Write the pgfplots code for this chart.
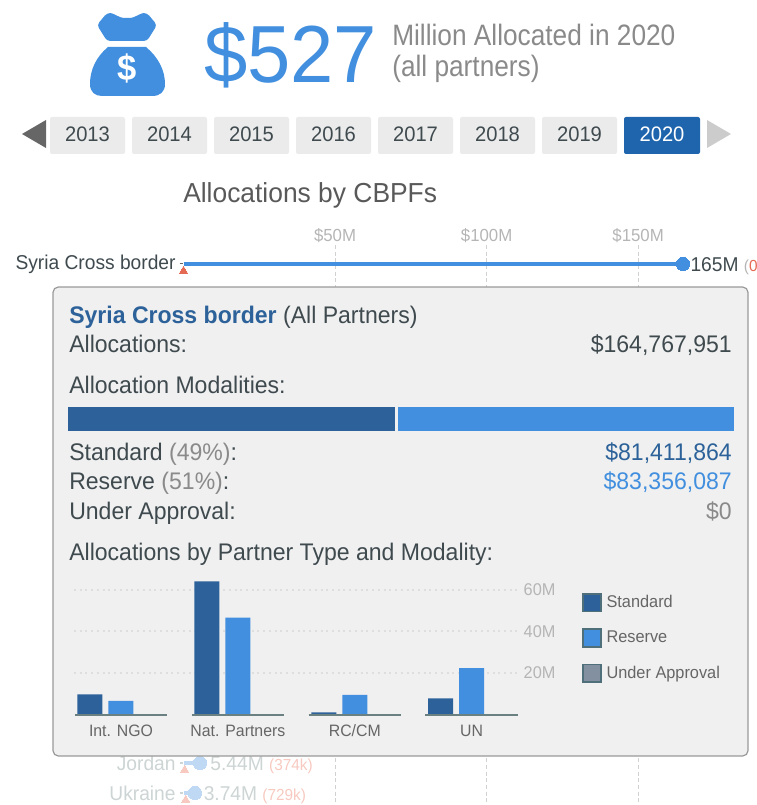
\documentclass[border=0pt]{standalone}
\usepackage{pgfplots}
\pgfplotsset{compat=1.18}
\usepackage{fontspec}
\setmainfont{Liberation Sans}[FakeStretch=0.96]
\newfontfamily\narrowf{Liberation Sans}[FakeStretch=0.89]
\definecolor{dkblue}{HTML}{2C6299}
\definecolor{ltblue}{HTML}{418FDE}
\definecolor{uagrey}{HTML}{82909F}
\definecolor{txt}{HTML}{3F4A4F}
\definecolor{hdr}{HTML}{8A8A8A}
\definecolor{tickg}{HTML}{B5B5B5}
\definecolor{lgb}{HTML}{4F6F7A}
\definecolor{basel}{HTML}{6B8080}
\definecolor{redm}{HTML}{E56A54}
\definecolor{fadet}{HTML}{CDD4D4}
\definecolor{fadeb}{HTML}{BFD9F5}
\definecolor{fader}{HTML}{F7C9C0}
\definecolor{sel}{HTML}{1F65AD}
\definecolor{panel}{HTML}{F0F0F0}
\newcommand\px[1]{\fontsize{\fpeval{#1*0.75}pt}{\fpeval{#1*0.9}pt}\selectfont}
\begin{document}
\begin{tikzpicture}[x=0.75pt,y=-0.75pt,
  t/.style={inner sep=0pt,anchor=base west},
  r/.style={inner sep=0pt,anchor=base east},
  c/.style={inner sep=0pt,anchor=base}]
\path[use as bounding box] (0,0) rectangle (756,805);
\coordinate (A1) at (183.5,805);
\coordinate (A2) at (66.5,432.5);
\coordinate (A3) at (74,714.7);
% money bag
\fill[ltblue,rounded corners=2.5pt] (107,13) .. controls (113,13) and (120,18) .. (127,18) .. controls (134,18) and (141,13) .. (147,13) -- (157,25) -- (147,41) -- (107,41) -- (97,25) -- cycle;
\fill[ltblue] (108,47) -- (146,47) .. controls (158,57) and (165,70) .. (165,84) .. controls (165,92) and (160,96) .. (152,96) -- (102,96) .. controls (95,96) and (90,92) .. (90,84) .. controls (90,70) and (96,57) .. (108,47) -- cycle;
\node[c,text=white] at (127,81) {\px{36}\bfseries\$};
\node[t,text=ltblue] at (204,83) {\px{81}\$527};
\node[t,text=hdr] at (392,46) {\px{29.5}\narrowf Million Allocated in 2020};
\node[t,text=hdr] at (392,77) {\px{29.5}\narrowf (all partners)};
% year selector
\fill[black!60] (22,134) -- (46,120) -- (46,148) -- cycle;
\fill[black!20] (731,134) -- (707,120) -- (707,148) -- cycle;
\foreach \xa/\yr in {50/2013,132/2014,214/2015,296/2016,378/2017,460/2018,542/2019}{
  \fill[black!8,rounded corners=1.5pt] (\xa,117) rectangle ++(75,37);
  \node[c,text=txt] at (\xa+37.5,142) {\px{21}\yr};
}
\fill[sel,rounded corners=1.5pt] (624,117) rectangle ++(76,37);
\node[c,text=white] at (662,142) {\px{21}2020};
\node[t,text=black!65] at (183,203) {\px{27.5}Allocations by CBPFs};
% lollipop axis
\begin{axis}[at={(A1)},anchor=south west,scale only axis,
  width=429.4pt,height=420pt,xmin=0,xmax=188.9,ymin=245,ymax=805,y dir=reverse,clip=false,
  axis line style={draw=none},tick style={draw=none},
  xtick={50,100,150},xticklabels={\$50M,\$100M,\$150M},xticklabel pos=upper,
  xticklabel style={font=\px{17.5},text=tickg,yshift=-2pt},
  xmajorgrids,major grid style={densely dashed,black!18,line width=0.75pt},
  ytick={264,763,793},yticklabels={Syria Cross border,{\color{fadet}Jordan},{\color{fadet}Ukraine}},
  yticklabel style={font=\px{20},text=txt,xshift=-2.4pt},
  ]
\addplot[ltblue,line width=2.6pt,mark=*,mark indices={2},mark size=5pt,mark options={fill=ltblue,draw=ltblue,line width=0pt}] coordinates {(0,264) (164.77,264)};
\addplot[fadeb,line width=2.6pt,mark=*,mark indices={2},mark size=5pt,mark options={fill=fadeb,draw=fadeb,line width=0pt}] coordinates {(0,763) (5.44,763)};
\addplot[fadeb,line width=2.6pt,mark=*,mark indices={2},mark size=5pt,mark options={fill=fadeb,draw=fadeb,line width=0pt}] coordinates {(0,793) (3.74,793)};
\addplot[only marks,mark=triangle*,mark size=3.6pt,mark options={fill=redm,draw=redm,line width=0pt}] coordinates {(0,271)};
\addplot[only marks,mark=triangle*,mark size=3.6pt,mark options={fill=fader,draw=fader,line width=0pt}] coordinates {(0.374,770) (0.729,800)};
\addplot[black!60,line width=0.8pt] coordinates {(-1.3,263.5) (-0.3,263.5)};
\addplot[fadet,line width=0.8pt] coordinates {(-1.3,763) (-0.3,763)};
\addplot[fadet,line width=0.8pt] coordinates {(-1.3,793) (-0.3,793)};
\node[t,text=txt] at (axis cs:167.2,271) {\px{20}165M {\px{16}\color{tickg}(\color{redm}0\color{tickg})}};
\node[t,text=fadet] at (axis cs:8.8,770) {\px{20}5.44M {\px{16}\color{fader}(374k)}};
\node[t,text=fadet] at (axis cs:6.6,800) {\px{20}3.74M {\px{16}\color{fader}(729k)}};
\end{axis}
% tooltip
\fill[panel,draw=black!40,line width=0.9pt,rounded corners=4pt] (53,287) rectangle (748,756);
\node[t,text=dkblue] at (69,323) {\px{24}\textbf{Syria Cross border} \color{txt}(All Partners)};
\node[t,text=txt] at (69,352) {\px{24}Allocations:};
\node[r,text=txt] at (732,352) {\px{24}\$164,767,951};
\node[t,text=txt] at (69,393) {\px{24}Allocation Modalities:};
\node[t,text=txt] at (69,460) {\px{24}Standard {\color{hdr}(49\%)}:};
\node[r,text=dkblue] at (732,460) {\px{24}\$81,411,864};
\node[t,text=txt] at (69,489) {\px{24}Reserve {\color{hdr}(51\%)}:};
\node[r,text=ltblue] at (732,489) {\px{24}\$83,356,087};
\node[t,text=txt] at (69,519) {\px{24}Under Approval:};
\node[r,text=hdr] at (732,519) {\px{24}\$0};
\node[t,text=txt] at (69,560) {\px{24}Allocations by Partner Type and Modality:};
% modality bar
\begin{axis}[at={(A2)},anchor=south west,scale only axis,width=501.4pt,height=20pt,
  xmin=0,xmax=164.768,ymin=-0.5,ymax=0.5,axis lines=none,xbar stacked,bar width=20pt]
\addplot[fill=dkblue,draw=panel,line width=2.2pt] coordinates {(81.412,0)};
\addplot[fill=ltblue,draw=panel,line width=2.2pt] coordinates {(83.356,0)};
\end{axis}
% partner bars
\begin{axis}[at={(A3)},anchor=south west,scale only axis,width=333.75pt,height=103.2pt,
  xmin=-0.402,xmax=3.405,ymin=0,ymax=66,clip=false,
  axis line style={draw=none},tick style={draw=none},
  xtick={0,1,2,3},xticklabels={Int. NGO,Nat. Partners,RC/CM,UN},
  xticklabel style={font=\px{16.5},text=black!60,text height=9pt,text depth=2.5pt,yshift=-3.5pt},
  ytick={20,40,60},yticklabels={20M,40M,60M},yticklabel pos=right,
  yticklabel style={font=\px{17},text=tickg},
  ymajorgrids,major grid style={dash pattern=on 1.5pt off 2.8pt,black!13,line width=1.5pt},
  legend style={at={(1.1416,0.885)},anchor=north west,draw=none,fill=none,
    row sep=12pt,font=\px{17},text=black!60,inner sep=0pt,
    nodes={inner sep=0pt,anchor=west},
    /tikz/every odd column/.append style={column sep=3.5pt}},
  legend cell align=left,
  sq/.style={legend image code/.code={\draw[##1,draw=lgb,line width=1.2pt] (0pt,-6.6pt) rectangle (13.5pt,6.6pt);}},
  ]
\addplot[ybar,bar width=18.75pt,bar shift=-23.25pt,fill=dkblue,draw=none,sq] coordinates {(0,9.7) (1,63.9) (2,1.1) (3,7.8)};
\addplot[ybar,bar width=18.75pt,bar shift=0pt,fill=ltblue,draw=none,sq] coordinates {(0,6.6) (1,46.6) (2,9.5) (3,22.4)};
\addplot[ybar,bar width=18.75pt,bar shift=23.25pt,fill=uagrey,draw=none,sq] coordinates {(0,0) (1,0) (2,0) (3,0)};
\legend{Standard,Reserve,Under Approval}
\addplot[basel,line width=1.6pt,forget plot] coordinates {(-0.395,0) (0.395,0)};
\addplot[basel,line width=1.6pt,forget plot] coordinates {(0.605,0) (1.395,0)};
\addplot[basel,line width=1.6pt,forget plot] coordinates {(1.605,0) (2.395,0)};
\addplot[basel,line width=1.6pt,forget plot] coordinates {(2.605,0) (3.395,0)};
\end{axis}
\end{tikzpicture}
\end{document}
